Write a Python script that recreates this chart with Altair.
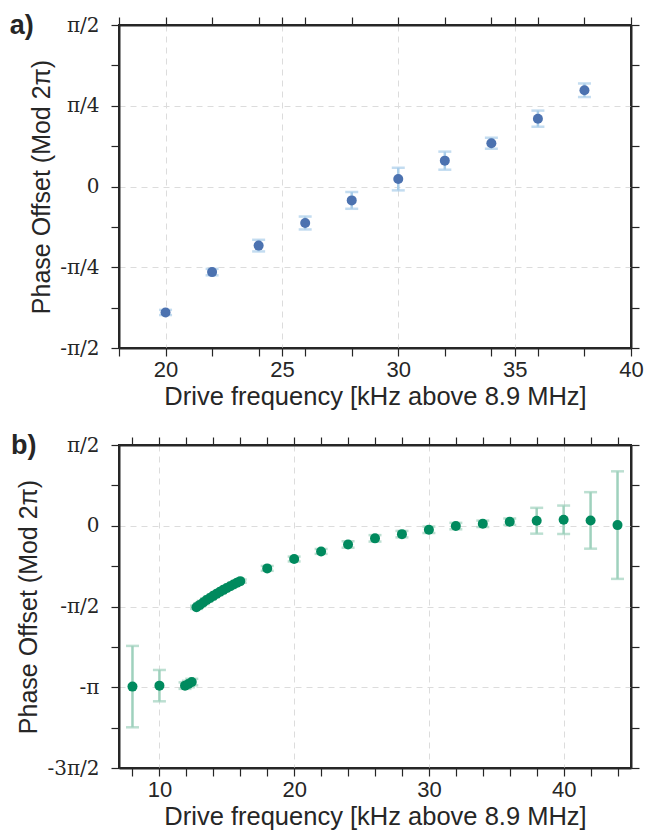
import altair as alt
import pandas as pd

# ---------------- data ----------------
a_freq = [20, 22, 24, 26, 28, 30, 32, 34, 36, 38]
a_phase = [-0.39, -0.265, -0.183, -0.113, -0.043, 0.023, 0.080, 0.134, 0.210, 0.298]  # units of pi
a_err = [0.008, 0.010, 0.018, 0.020, 0.026, 0.035, 0.028, 0.017, 0.025, 0.021]

b_freq = [8, 10, 11.9, 12.15, 12.4,
          12.75, 13.0, 13.25, 13.5, 13.75, 14.0, 14.25, 14.5, 14.75, 15.0, 15.25, 15.5, 15.75, 16.0,
          18, 20, 22, 24, 26, 28, 30, 32, 34, 36, 38, 40, 42, 44]
b_phase = [-0.996, -0.99, -0.99, -0.98, -0.968,
           -0.505, -0.49, -0.475, -0.46, -0.447, -0.434, -0.421, -0.409, -0.397, -0.386, -0.375, -0.364, -0.353, -0.343,
           -0.264, -0.206, -0.159, -0.116, -0.078, -0.052, -0.025, -0.002, 0.012, 0.025, 0.031, 0.037, 0.033, 0.004]
b_err = [0.252, 0.097, 0.02, 0.02, 0.02,
         0.01, 0.01, 0.01, 0.01, 0.01, 0.01, 0.01, 0.01, 0.01, 0.01, 0.01, 0.01, 0.01, 0.01,
         0.015, 0.015, 0.015, 0.02, 0.02, 0.02, 0.02, 0.02, 0.02, 0.02, 0.08, 0.088, 0.175, 0.333]

a_xticks = [18, 20, 22, 24, 25, 26, 28, 30, 32, 34, 35, 36, 38, 40]
b_xticks = [8, 10, 12, 14, 16, 18, 20, 22, 24, 26, 28, 30, 32, 34, 36, 38, 40, 42, 44]
a_yticks = [-0.5, -0.375, -0.25, -0.125, 0, 0.125, 0.25, 0.375, 0.5]
b_yticks = [-1.5, -1.25, -1.0, -0.75, -0.5, -0.25, 0, 0.25, 0.5]
a_ylab_vals = [0.5, 0.25, 0, -0.25, -0.5]
a_ylab_text = ["π/2", "π/4", "0", "-π/4", "-π/2"]
b_ylab_vals = [0.5, 0, -0.5, -1.0, -1.5]
b_ylab_text = ["π/2", "0", "-π/2", "-π", "-3π/2"]

XTITLE = "Drive frequency [kHz above 8.9 MHz]"
YTITLE = "Phase Offset (Mod 2π)"
INK = "#262626"
SANS = "Liberation Sans"
SERIF = "DejaVu Serif"


def label_expr(vals, texts):
    expr = "''"
    for v, t in reversed(list(zip(vals, texts))):
        expr = f"abs(datum.value - ({v})) < 1e-6 ? '{t}' : " + expr
    return expr


def panel(freq, phase, err, xdom, xticks, xmajor, ydom, yticks, yminor_major, ylv, ylt,
          dot, bar, tag, tag_dx):
    df = pd.DataFrame({"f": freq, "p": phase, "e": err})
    df["lo"] = df["p"] - df["e"]
    df["hi"] = df["p"] + df["e"]
    xs = alt.Scale(domain=xdom, nice=False, zero=False)
    ys = alt.Scale(domain=ydom, nice=False, zero=False)
    grid_x = {"condition": {"test": f"datum.value % {xmajor} == 0", "value": 1}, "value": 0}
    grid_y = {"condition": {"test": f"abs(datum.value % {yminor_major}) < 1e-6", "value": 1}, "value": 0}
    ax_bottom = alt.Axis(orient="bottom", values=xticks, title=XTITLE,
                         labelExpr=f"datum.value % {xmajor} == 0 ? datum.label : ''",
                         gridOpacity=grid_x, labelOverlap=False, labelFlush=False,
                         titleFontSize=25.5, labelPadding=3, titlePadding=4)
    ax_left = alt.Axis(orient="left", values=yticks, title=YTITLE,
                       labelExpr=label_expr(ylv, ylt), labelFont=SERIF, labelFontSize=20,
                       gridOpacity=grid_y, labelOverlap=False, labelFlush=False,
                       labelPadding=12, titlePadding=5, titleFontSize=25)
    ax_top = alt.Axis(orient="top", values=xticks, title=None, labels=False, grid=False)
    ax_right = alt.Axis(orient="right", values=yticks, title=None, labels=False, grid=False)
    base = alt.Chart(df)
    rules = base.mark_rule(color=bar, strokeWidth=2.5).encode(
        x=alt.X("f:Q", scale=xs, axis=ax_bottom),
        y=alt.Y("lo:Q", scale=ys, axis=ax_left),
        y2="hi:Q",
    )
    cap_lo = base.mark_tick(color=bar, orient="horizontal", size=13, thickness=2.5).encode(
        x=alt.X("f:Q", scale=xs, axis=None),
        y=alt.Y("lo:Q", scale=ys, axis=None),
    )
    cap_hi = base.mark_tick(color=bar, orient="horizontal", size=13, thickness=2.5).encode(
        x=alt.X("f:Q", scale=xs, axis=None),
        y=alt.Y("hi:Q", scale=ys, axis=None),
    )
    pts = base.mark_circle(color=dot, size=100, opacity=1).encode(
        x=alt.X("f:Q", scale=xs, axis=ax_top),
        y=alt.Y("p:Q", scale=ys, axis=ax_right),
    )
    return alt.layer(rules, cap_lo, cap_hi, pts).resolve_axis(
        x="independent", y="independent"
    ).properties(
        width=512, height=323,
        title=alt.TitleParams(tag, anchor="start", frame="bounds", dx=tag_dx, fontSize=27,
                              fontWeight="bold", font=SANS, color=INK, offset=-25),
    )


pa = panel(a_freq, a_phase, a_err, [18, 40], a_xticks, 5, [-0.5, 0.5], a_yticks, 0.25,
           a_ylab_vals, a_ylab_text, "#4c72b0", "#a9cde9", "a)", -20)
pb = panel(b_freq, b_phase, b_err, [7, 45], b_xticks, 10, [-1.5, 0.5], b_yticks, 0.5,
           b_ylab_vals, b_ylab_text, "#008a5e", "#9fd1bd", "b)", -6)

chart = alt.vconcat(pa, pb, spacing=20).configure(
    padding={"left": 0, "top": 3, "right": 0, "bottom": 0},
).configure_view(
    stroke=INK, strokeWidth=2,
).configure_axis(
    labelFont=SANS, labelFontSize=22, labelColor=INK,
    titleFont=SANS, titleFontSize=25, titleFontWeight="normal", titleColor=INK,
    tickColor=INK, tickSize=8, tickWidth=1.2,
    domain=True, domainColor=INK, domainWidth=2,
    gridColor="#dcdcdc", gridDash=[6, 5], gridWidth=1,
)

chart.save("out.html", embed_options={"renderer": "svg", "actions": False})
